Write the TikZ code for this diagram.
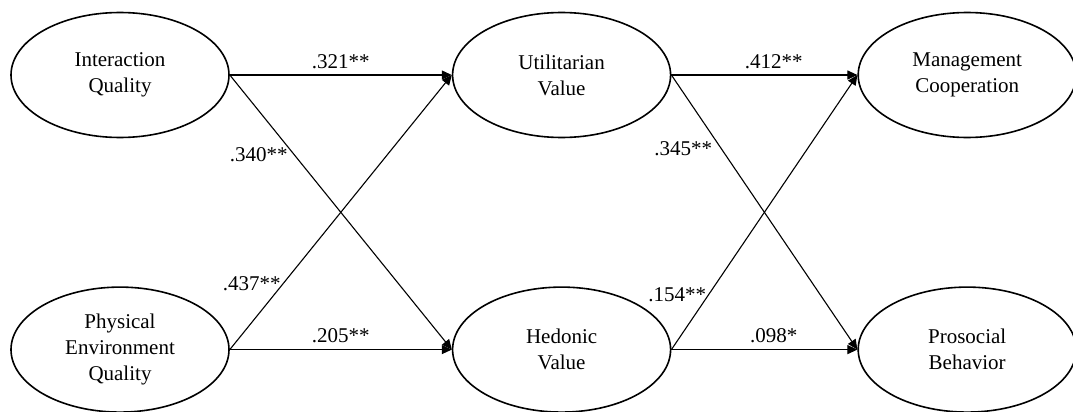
\documentclass[tikz,border=0pt]{standalone}
\usepackage{fontspec}
\setmainfont{Liberation Serif}
\usetikzlibrary{arrows.meta,shapes.geometric,positioning}
\tikzset{
  varbox/.style={draw, ellipse, line width=0.8pt, align=center,
                 minimum width=109pt, minimum height=62.5pt, inner sep=1pt,
                 font=\fontsize{10.5}{13}\selectfont},
  arr/.style   ={-{Triangle[length=5pt,width=4.5pt]}, line width=0.55pt},
  coef/.style  ={font=\fontsize{10.5}{12}\selectfont, inner sep=1pt},
}

\begin{document}
\begin{tikzpicture}
  \useasboundingbox (0,0) rectangle (536.5pt,-206pt);
  \node[varbox] (iq) at (60pt,-37.5pt) {Interaction\\Quality};
  \node[varbox, below=74pt of iq] (peq) {Physical\\Environment\\Quality};
  \node[varbox, right=111pt of iq] (uv) {Utilitarian\\Value};
  \node[varbox, right=111pt of peq] (hv) {Hedonic\\Value};
  \node[varbox, right=93pt of uv] (mc) {Management\\Cooperation};
  \node[varbox, right=93pt of hv] (pb) {Prosocial\\Behavior};

  \draw[arr] (iq.east) -- node[coef, above=2pt] {.321**} (uv.west);
  \draw[arr] (iq.east) -- node[coef, pos=0.29, left=2pt] {.340**} (hv.west);
  \draw[arr] (peq.east) -- node[coef, pos=0.24, anchor=east] {.437**} (uv.west);
  \draw[arr] (peq.east) -- node[coef, above=2pt] {.205**} (hv.west);
  \draw[arr] (uv.east) -- node[coef, pos=0.55, above=2pt] {.412**} (mc.west);
  \draw[arr] (uv.east) -- node[coef, pos=0.27, left=3.5pt] {.345**} (pb.west);
  \draw[arr] (hv.east) -- node[coef, pos=0.2, anchor=east] {.154**} (mc.west);
  \draw[arr] (hv.east) -- node[coef, pos=0.55, above=2pt] {.098*} (pb.west);
\end{tikzpicture}
\end{document}
